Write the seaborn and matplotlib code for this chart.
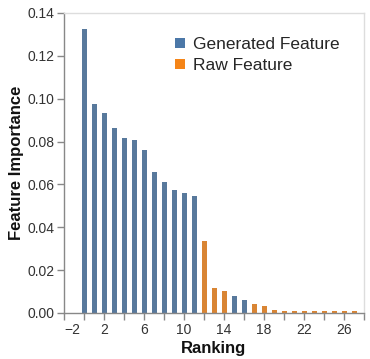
import matplotlib
matplotlib.use("Agg")
import matplotlib.pyplot as plt
import seaborn as sns
import pandas as pd
from matplotlib.lines import Line2D

rankings = list(range(28))
importance = [0.1324, 0.0977, 0.0933, 0.0863, 0.0817, 0.0806, 0.0759, 0.0658,
              0.0613, 0.0572, 0.0561, 0.0546, 0.0335, 0.0118, 0.0103, 0.0079,
              0.0063, 0.0043, 0.0032, 0.0014, 0.0011, 0.0011, 0.0011, 0.0011,
              0.0011, 0.0011, 0.0010, 0.0010]
feature_type = (["Generated Feature"] * 12 + ["Raw Feature"] * 3 +
                ["Generated Feature"] * 2 + ["Raw Feature"] * 11)
categories = ["Generated Feature", "Raw Feature"]
colors = ["#4c78a8", "#f58518"]
x_ticks = list(range(-2, 29, 2))
y_ticks = [0.00, 0.02, 0.04, 0.06, 0.08, 0.10, 0.12, 0.14]

df = pd.DataFrame({"Ranking": rankings, "Importance": importance, "Type": feature_type})

sns.set_style("white")
plt.rcParams["font.family"] = ["Liberation Sans", "DejaVu Sans"]

fig = plt.figure(figsize=(3.70, 3.59), dpi=100)
ax = fig.add_axes([64 / 370, 46 / 359, 300 / 370, 300 / 359])

sns.barplot(data=df, x="Ranking", y="Importance", hue="Type", hue_order=categories,
            palette=colors, native_scale=True, dodge=False, width=0.5,
            linewidth=0, ax=ax, legend=False)

ax.set_xlim(-2, 28)
ax.set_ylim(0, 0.14)
ax.set_xticks(x_ticks)
ax.set_xticklabels([("\u2212" + str(-v) if v < 0 else str(v)) if (v + 2) % 4 == 0 and v < 28 else ""
                    for v in x_ticks])
ax.set_yticks(y_ticks)
ax.set_yticklabels([f"{v:.2f}" for v in y_ticks])
ax.get_xticklabels()[0].set_horizontalalignment("left")

ax.tick_params(axis="both", which="major", length=5, width=1, color="#888888",
               labelsize=10, labelcolor="#333333", pad=2, direction="out",
               bottom=True, left=True)

for side in ["top", "right"]:
    ax.spines[side].set_color("#dddddd")
    ax.spines[side].set_linewidth(1)
for side in ["left", "bottom"]:
    ax.spines[side].set_color("#888888")
    ax.spines[side].set_linewidth(1)

ax.set_xlabel("Ranking", fontsize=12, fontweight="bold", color="#111111", labelpad=3)
ax.set_ylabel("Feature Importance", fontsize=12, fontweight="bold", color="#111111", labelpad=2)

handles = [Line2D([0], [0], marker="s", linestyle="", markersize=7.5,
                  markerfacecolor=c, markeredgewidth=0) for c in colors]
ax.legend(handles, categories, loc="upper left", bbox_to_anchor=(0.333, 0.942),
          frameon=False, fontsize=12.5, handletextpad=0.3, labelspacing=0.32,
          borderaxespad=0, handlelength=1.0)

fig.savefig("out.png", dpi=100)
